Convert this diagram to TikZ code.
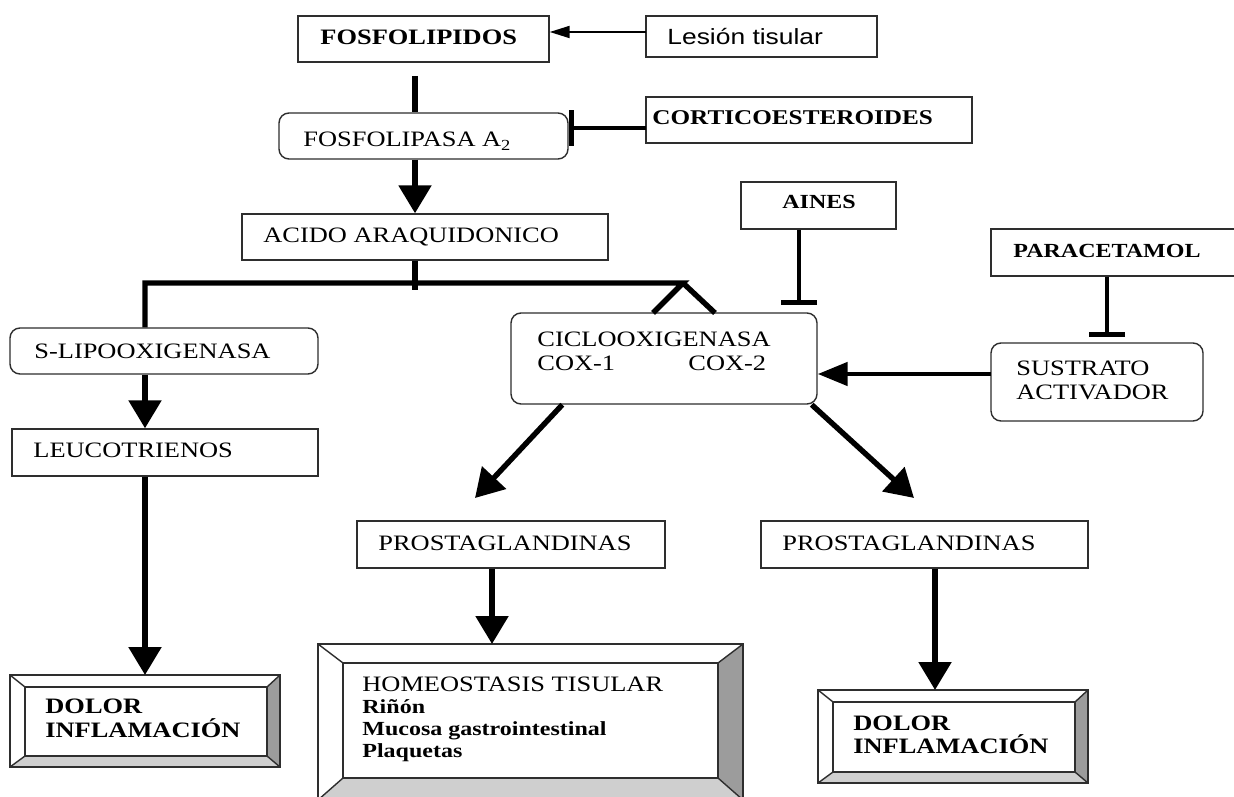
\documentclass[tikz,border=0pt]{standalone}
\usepackage{fontspec}
\setmainfont{Liberation Serif}[FakeStretch=1.2]
\setsansfont{Liberation Sans}[FakeStretch=1.2]
\usetikzlibrary{arrows.meta,positioning,calc,fit}
\definecolor{trazo}{HTML}{2E2E2E}
\definecolor{biselosc}{HTML}{9C9C9C}
\definecolor{biselcla}{HTML}{CFCFCF}
% caja biselada: #1 exterior, #2 interior
\newcommand{\bisel}[2]{%
  \fill[biselosc] (#1.north east) -- (#1.south east) -- (#2.south east) -- (#2.north east) -- cycle;
  \fill[biselcla] (#1.south west) -- (#1.south east) -- (#2.south east) -- (#2.south west) -- cycle;
  \draw[trazo,line width=0.7pt] (#1.north west) -- (#2.north west) (#1.north east) -- (#2.north east)
    (#1.south west) -- (#2.south west) (#1.south east) -- (#2.south east);
  \draw[trazo,line width=0.7pt] (#2.north west) rectangle (#2.south east);
  \draw[trazo,line width=0.7pt] (#1.north west) rectangle (#1.south east);}

\begin{document}
\begin{tikzpicture}[x=0.5pt,y=-0.5pt,
  caja/.style={draw=trazo,line width=0.7pt,inner sep=0pt},
  cajar/.style={caja,rounded corners=5pt},
  bisnodo/.style={inner sep=0pt,outer sep=0pt},
  txt/.style={inner sep=0pt,anchor=base west,font=\fontsize{11}{13}\selectfont},
  txtb/.style={txt,font=\fontsize{11}{13}\selectfont\bfseries},
  txtp/.style={txt,font=\fontsize{10}{12}\selectfont\bfseries},
  grueso/.style={line width=2.7pt},
  gruesoflecha/.style={grueso,-{Triangle[length=14pt,width=16pt]}},
  mediaflecha/.style={line width=2.4pt,-{Triangle[length=15pt,width=11.5pt]}},
  finaflecha/.style={line width=1pt,-{Triangle[length=10pt,width=6pt]}},
  inhibe/.style={line width=2.4pt,-{Bar[width=18pt,line width=2.5pt]}}]
  \clip (0,0) rectangle (1234,796);
  \fill[white] (0,0) rectangle (1234,796);
  % cajas
  \node[caja,fit={(298,16) (549,62)}] (fosfolipidos) {};
  \node[caja,fit={(646,16) (877,57)}] (lesion) {};
  \node[cajar,fit={(279,113) (568,159)}] (fosfolipasa) {};
  \node[caja,fit={(646,97) (972,143)}] (cortico) {};
  \node[caja,fit={(242,214) (608,260)}] (acido) {};
  \node[caja,fit={(741,182) (896,229)}] (aines) {};
  \node[caja,fit={(991,229) (1245,276)}] (paracetamol) {};
  \node[cajar,fit={(10,328) (318,374)}] (slipo) {};
  \node[cajar,fit={(511,313) (817,404)}] (cox) {};
  \node[cajar,fit={(991,343) (1203,421)}] (sustrato) {};
  \node[caja,fit={(12,429) (318,476)}] (leuco) {};
  \node[caja,fit={(357,521) (665,568)}] (pgizq) {};
  \node[caja,fit={(761,521) (1088,568)}] (pgder) {};
  % cajas biseladas
  \node[bisnodo,fit={(10,675) (280,767)}] (dolorizq) {};
  \node[bisnodo,fit={(25,687) (267,756)}] (dolorizqin) {};
  \node[bisnodo,fit={(318,644) (743,800)}] (homeo) {};
  \node[bisnodo,fit={(343,663) (718,778)}] (homeoin) {};
  \node[bisnodo,fit={(818,690) (1088,783)}] (dolorder) {};
  \node[bisnodo,fit={(833,702) (1075,772)}] (dolorderin) {};
  \bisel{dolorizq}{dolorizqin}
  \bisel{homeo}{homeoin}
  \bisel{dolorder}{dolorderin}
  % textos
  \node[txtb] (t-fosfo) at (320,45) {FOSFOLIPIDOS};
  \node[txt,font=\fontsize{11}{13}\selectfont\sffamily] (t-lesion) at (667,45) {Lesión tisular};
  \node[txt] (t-fosfolipasa) at (303,147) {FOSFOLIPASA A\textsubscript{2}};
  \node[txt,font=\fontsize{10.5}{12}\selectfont\bfseries] (t-cortico) at (652,125) {CORTICOESTEROIDES};
  \node[txt] (t-acido) at (263,243) {ACIDO ARAQUIDONICO};
  \node[txtp,anchor=base] (t-aines) at (819,209) {AINES};
  \node[txtp] (t-para) at (1013,257) {PARACETAMOL};
  \node[txt] (t-slipo) at (34,358) {S-LIPOOXIGENASA};
  \node[txt] (t-ciclo) at (537,346) {CICLOOXIGENASA};
  \node[txt] (t-cox1) at (537,370) {COX-1};
  \node[txt] (t-cox2) at (688,370) {COX-2};
  \node[txt] (t-sustrato) at (1016,375) {SUSTRATO};
  \node[txt] (t-activador) at (1016,399) {ACTIVADOR};
  \node[txt] (t-leuco) at (33,457) {LEUCOTRIENOS};
  \node[txt] (t-pgizq) at (378,550) {PROSTAGLANDINAS};
  \node[txt] (t-pgder) at (782,550) {PROSTAGLANDINAS};
  \node[txt] (t-homeo) at (362,691) {HOMEOSTASIS TISULAR};
  \node[txtp] (t-rinon) at (362,713) {Riñón};
  \node[txtp] (t-mucosa) at (362,735) {Mucosa gastrointestinal};
  \node[txtp] (t-plaq) at (362,757) {Plaquetas};
  \node[txtb] (t-dolor1) at (45,713) {DOLOR};
  \node[txtb] (t-infla1) at (45,737) {INFLAMACIÓN};
  \node[txtb] (t-dolor2) at (853,730) {DOLOR};
  \node[txtb] (t-infla2) at (853,753) {INFLAMACIÓN};
  % conectores
  \coordinate (lesarr) at (646,32);
  \draw[finaflecha] (lesarr) -- (lesarr -| fosfolipidos.east);
  \coordinate (tronco) at (415,76);
  \draw[grueso] (tronco) -- (tronco |- fosfolipasa.north);
  \draw[gruesoflecha] (tronco |- fosfolipasa.south) -- (tronco |- acido.north);
  \coordinate (corti) at (646,128);
  \draw[inhibe] (corti) -- (corti -| fosfolipasa.east);
  \coordinate (rama) at (145,283);
  \coordinate (vertice) at (683,283);
  \draw[grueso] (tronco |- acido.south) -- ++(0,29);
  \draw[grueso] (rama |- slipo.north) -- (rama) -- (vertice) -- ++(-30,30);
  \draw[grueso] (vertice) -- ++(32,30);
  \draw[gruesoflecha] (rama |- slipo.south) -- (rama |- leuco.north);
  \draw[gruesoflecha] (rama |- leuco.south) -- (rama |- dolorizq.north);
  \coordinate (ainesfin) at (799,305);
  \draw[inhibe] (ainesfin |- aines.south) -- (ainesfin);
  \coordinate (parafin) at (1107,337);
  \draw[inhibe] (parafin |- paracetamol.south) -- (parafin);
  \coordinate (sustarr) at (991,374);
  \draw[mediaflecha] (sustarr) -- (sustarr -| cox.east);
  \coordinate (pgizqfin) at (475,498);
  \coordinate (pgderfin) at (914,498);
  \draw[gruesoflecha] ([xshift=26pt]cox.south west) -- (pgizqfin);
  \draw[gruesoflecha] ([xshift=-3pt]cox.south east) -- (pgderfin);
  \coordinate (homeofin) at (492,644);
  \draw[gruesoflecha] (homeofin |- pgizq.south) -- (homeofin);
  \coordinate (dolorfin) at (935,690);
  \draw[gruesoflecha] (dolorfin |- pgder.south) -- (dolorfin);
\end{tikzpicture}
\end{document}
